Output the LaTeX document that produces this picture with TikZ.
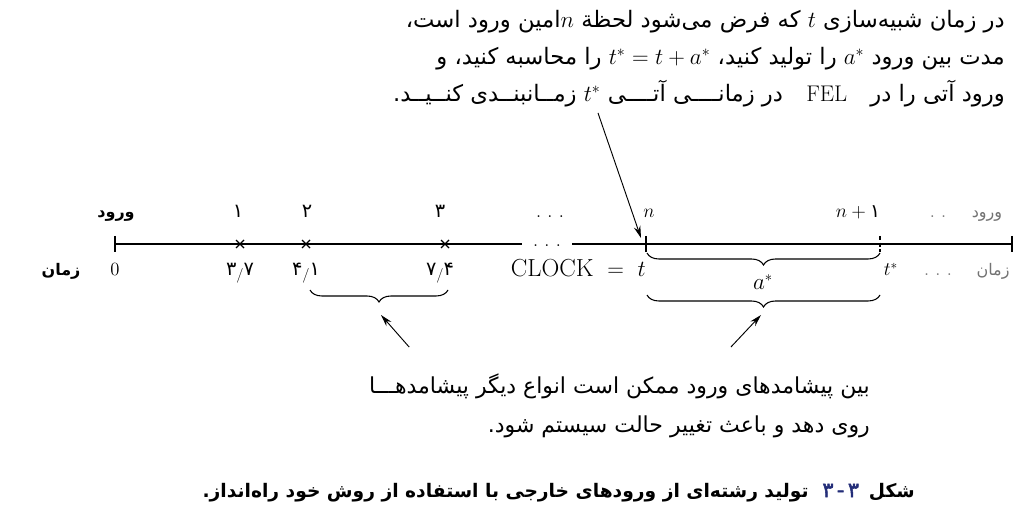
\documentclass[tikz,border=0pt]{standalone}
\usepackage{fontspec}
\usetikzlibrary{decorations.pathreplacing,arrows.meta}
\newfontfamily\arabicfont[Script=Arabic]{DejaVu Sans}
\newfontfamily\arabicfake[Script=Arabic,FakeBold=2.5]{DejaVu Sans}
\TeXXeTstate=1
\definecolor{capblue}{RGB}{35,45,120}
\definecolor{faint}{gray}{0.45}
\newcommand{\decsep}{\raisebox{-2.5pt}{\fontsize{11}{11}\selectfont\rmfamily /}}
\begin{document}
\begin{tikzpicture}[x=0.75pt,y=-0.75pt,
  para/.style={font=\arabicfont\fontsize{17}{19}\selectfont, inner sep=0pt, anchor=base east},
  parab/.style={font=\arabicfont\fontsize{16.5}{19}\selectfont, inner sep=0pt, anchor=base east},
  capstyle/.style={font=\arabicfont\bfseries\fontsize{14}{16}\selectfont, inner sep=0pt, anchor=base east},
  lbl/.style={font=\fontsize{14}{16}\selectfont, inner sep=0pt, anchor=base},
  albl/.style={font=\arabicfont\fontsize{14.5}{16}\selectfont, inner sep=0pt, anchor=base},
  blbl/.style={font=\arabicfont\bfseries\fontsize{12}{15}\selectfont, inner sep=0pt, anchor=base},
  fainttxt/.style={text=faint},
  axis/.style={line width=0.8pt},
  bracefx/.style={decorate, decoration={brace, amplitude=9pt}, line width=0.8pt},
  pointer/.style={-{Stealth[length=9pt,width=5pt]}, line width=0.7pt}]
\useasboundingbox (0,0) rectangle (1021,516);
\fill[white] (0,0) rectangle (1021,516);

% top paragraph
\node[para] (p1) at (1005,28) {\beginR در زمان شبیه‌سازی $t$ که فرض می‌شود لحظة $n$امین ورود است،\endR};
\node[para] (p2) at (1005,65) {\beginR مدت بین ورود $a^*$ را تولید کنید، \beginL$t^* = t + a^*$\endL{} را محاسبه کنید، و\endR};
\node[para] (p3) at (1005,102) {\beginR ورود آتی را در \hspace{12pt}{\rmfamily FEL}\hspace{12pt} در زمانــــی آتــــی $t^*$ زمــانبنــدی کنــیــد.\endR};

% axis points
\coordinate (o) at (115,244);
\coordinate (m1) at (240,244);
\coordinate (m2) at (306,244);
\coordinate (m3) at (445,244);
\coordinate (e1) at (522,244);
\coordinate (s2) at (572,244);
\coordinate (tt) at (646,244);
\coordinate (ts) at (880,244);
\coordinate (en) at (1012,244);

\draw[axis] (o) -- (e1);
\draw[axis] (s2) -- (en);
\node[lbl] (adots) at (547,247) {.\,\,.\,\,.};
\foreach \p in {o,tt,en} \draw[axis] (\p) ++(0,-8) -- ++(0,16);
\draw[axis, dash pattern=on 3pt off 2pt] (ts) ++(0,-8) -- ++(0,16);
\foreach \p in {m1,m2,m3} {
  \draw[line width=0.9pt] (\p) ++(-4,-4) -- ++(8,8);
  \draw[line width=0.9pt] (\p) ++(-4,4) -- ++(8,-8);
}

% upper labels
\node[blbl] (lin) at (116,218) {ورود};
\node[albl] (l1) at (238,218) {۱};
\node[albl] (l2) at (307,218) {۲};
\node[albl] (l3) at (440,218) {۳};
\node[lbl] (ldots) at (550,218) {.\,\,.\,\,.};
\node[lbl] (ln) at (649,218) {$n$};
\node[lbl] (ln1) at (858,218) {$n+{}${\arabicfont ۱}};
\node[lbl, fainttxt] (ldots2) at (938,218) {.\,\,.};
\node[albl, fainttxt, font=\arabicfont\fontsize{12}{15}\selectfont] (lin2) at (987,218) {ورود};

% lower labels
\node[blbl] (ltime) at (61,276) {زمان};
\node[lbl] (z0) at (115,276) {0};
\node[albl] (z1) at (240,276) {۳\decsep۷};
\node[albl] (z2) at (306,276) {۴\decsep۱};
\node[albl] (z3) at (440,276) {۷\decsep۴};
\node[lbl, anchor=base east, font=\fontsize{18.5}{20}\selectfont] (clk) at (646,277) {CLOCK\;\;$=$\;\;$t$};
\node[lbl] (tstar) at (891,276) {$t^*$};
\node[lbl, fainttxt] (zdots) at (938,276) {.\,\,.\,\,.};
\node[albl, fainttxt, font=\arabicfont\fontsize{12}{15}\selectfont] (ltime2) at (993,276) {زمان};

% braces
\draw[bracefx] (448,290) -- (310,290);
\draw[bracefx] (880,253) -- (647,253);
\node[lbl, font=\fontsize{16}{18}\selectfont] (astar) at (763,290) {$a^*$};
\draw[bracefx] (880,295) -- (647,295);

% pointers
\coordinate (b1tip) at (381,315);
\coordinate (b2tip) at (761,315);
\coordinate (topstart) at (598,113);
\coordinate (ttop) at (641,238);
\draw[pointer] (topstart) -- (ttop);
\node[inner sep=0pt] (n1) at (410,348) {};
\node[inner sep=0pt] (n2) at (730,348) {};
\draw[pointer] (n1) -- (b1tip);
\draw[pointer] (n2) -- (b2tip);

% bottom text
\node[parab] (q1) at (870,394) {\beginR بین پیشامدهای ورود ممکن است انواع دیگر پیشامدهـــا\endR};
\node[parab] (q2) at (870,432) {\beginR روی دهد و باعث تغییر حالت سیستم شود.\endR};

% caption
\node[capstyle] (capA) at (915,497) {\beginR شکل\endR};
\node[capstyle, font=\arabicfake\fontsize{15.5}{16}\selectfont, text=capblue] (capN) at ([xshift=-7pt]capA.base west) {۳\,-\,۳};
\node[capstyle] (capB) at ([xshift=-10pt]capN.base west) {\beginR تولید رشته‌ای از ورودهای خارجی با استفاده از روش خود راه‌انداز.\endR};
\end{tikzpicture}
\end{document}
